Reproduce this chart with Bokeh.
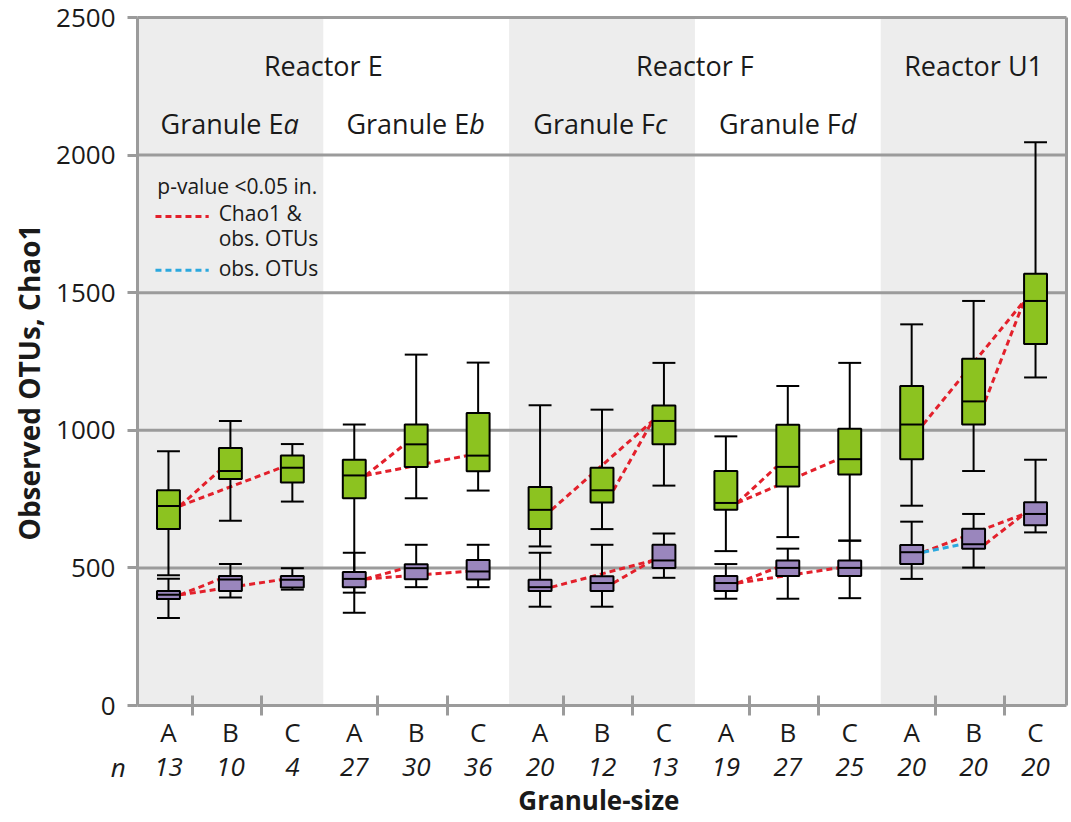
import math
from bokeh.plotting import figure
from bokeh.models import Range1d, FixedTicker, Label, LabelSet, ColumnDataSource, LinearAxis
from bokeh.embed import file_html
from bokeh.resources import INLINE
from bokeh.core.properties import value

# ---------------- data ----------------
sizes = ["A", "B", "C"] * 5
n_values = ["13", "10", "4", "27", "30", "36", "20", "12", "13", "19", "27", "25", "20", "20", "20"]
granule_names = [("Granule E", "a"), ("Granule E", "b"), ("Granule F", "c"), ("Granule F", "d"), None]
reactor_names = ["Reactor E", "Reactor F", "Reactor U1"]
reactor_groups = [[0, 1], [2, 3], [4]]
shaded_groups = [0, 2, 4]
y_ticks = [0, 500, 1000, 1500, 2000, 2500]

# Chao1 (green)
chao_lo = [473, 671, 741, 337, 753, 781, 578, 641, 799, 561, 612, 599, 726, 852, 1192]
chao_q1 = [641, 823, 810, 753, 867, 851, 641, 738, 949, 711, 796, 839, 895, 1021, 1314]
chao_med = [725, 852, 864, 836, 949, 908, 711, 782, 1034, 736, 867, 895, 1021, 1105, 1470]
chao_q3 = [782, 936, 908, 893, 1021, 1063, 794, 864, 1090, 852, 1020, 1006, 1161, 1260, 1569]
chao_hi = [924, 1034, 950, 1021, 1275, 1246, 1091, 1075, 1245, 978, 1161, 1245, 1385, 1470, 2047]

# observed OTUs (purple)
obs_lo = [318, 392, 421, 410, 430, 430, 359, 359, 464, 388, 388, 390, 460, 501, 629]
obs_q1 = [387, 416, 429, 430, 459, 458, 416, 416, 500, 416, 471, 471, 514, 570, 655]
obs_med = [402, 458, 457, 460, 499, 487, 430, 445, 527, 445, 500, 500, 557, 586, 696]
obs_q3 = [416, 471, 471, 485, 513, 529, 457, 470, 584, 471, 527, 527, 583, 642, 739]
obs_hi = [461, 514, 499, 555, 584, 584, 555, 584, 625, 514, 570, 599, 668, 696, 893]

# significant pairs (p < 0.05)
sig_both = [(0, 1), (0, 2), (3, 4), (3, 5), (6, 8), (7, 8), (9, 10), (9, 11), (12, 14), (13, 14)]
sig_obs_only = [(12, 13)]

# ---------------- style ----------------
GREEN = "#8CC320"
PURPLE = "#9A86BD"
RED = "#E3202B"
BLUE = "#2BA8DE"
GRAY = "#9B9B9B"
BAND = "#EDEDED"
TXT = "#1A1A1A"
FONT = "Open Sans"
HW = 0.185  # half box width (data units)

N = len(sizes)
xs = [i + 0.5 for i in range(N)]
XMAX = N
YMAX = y_ticks[-1]

# the frame covers the whole canvas; the axes are placed at fixed data positions
W, H = 1071, 822
px_x = 929 / XMAX          # pixels per x unit
px_y = 688 / YMAX          # pixels per y unit
x0_px, y0_px = 137, 705    # pixel position of the data origin
p = figure(width=W, height=H,
           x_range=Range1d(-x0_px / px_x, XMAX + (W - x0_px - 929) / px_x),
           y_range=Range1d(-(H - y0_px) / px_y, YMAX + (y0_px - 688) / px_y),
           output_backend="svg", toolbar_location=None,
           x_axis_location=None, y_axis_location=None, min_border=0)
for r in list(p.center):
    r.visible = False
p.background_fill_color = "white"
p.border_fill_color = "white"
p.outline_line_color = None

# background bands
p.quad(left=[g * 3 for g in shaded_groups], right=[g * 3 + 3 for g in shaded_groups],
       bottom=0, top=YMAX, fill_color=BAND, line_color=None, level="image")

# grid lines and right border
p.segment(x0=[0] * (len(y_ticks) - 1), y0=y_ticks[1:], x1=[XMAX] * (len(y_ticks) - 1), y1=y_ticks[1:],
          line_color=GRAY, line_width=3, level="underlay")
p.segment(x0=[XMAX], y0=[0], x1=[XMAX], y1=[YMAX], line_color=GRAY, line_width=3, level="underlay")

# axes
ya = LinearAxis(fixed_location=0, bounds=(0, YMAX), ticker=FixedTicker(ticks=y_ticks))
ya.axis_line_color = GRAY
ya.axis_line_width = 3
ya.major_tick_line_color = GRAY
ya.major_tick_line_width = 3
ya.major_tick_out = 10
ya.major_tick_in = 0
ya.minor_tick_line_color = None
ya.major_label_text_font = FONT
ya.major_label_text_font_size = "26px"
ya.major_label_text_color = TXT
ya.major_label_standoff = 12
p.add_layout(ya, "left")

xt = []
for g in range(5):
    xt += [g * 3 + 0.88, g * 3 + 2.0]
xa = LinearAxis(fixed_location=0, bounds=(0, XMAX), ticker=FixedTicker(ticks=xt))
xa.major_label_overrides = {t: "" for t in xt}
xa.axis_line_color = GRAY
xa.axis_line_width = 3
xa.major_tick_line_color = GRAY
xa.major_tick_line_width = 3
xa.major_tick_out = 10
xa.major_tick_in = 10
xa.minor_tick_line_color = None
p.add_layout(xa, "below")


# significance lines (right edge of source box at median -> left edge of target box at median)
def seg(pairs, med):
    return dict(x0=[xs[a] + HW for a, b in pairs], y0=[med[a] for a, b in pairs],
                x1=[xs[b] - HW for a, b in pairs], y1=[med[b] for a, b in pairs])


for med in (chao_med, obs_med):
    p.segment(source=ColumnDataSource(seg(sig_both, med)), x0="x0", y0="y0", x1="x1", y1="y1",
              line_color=RED, line_width=3, line_dash="6 4")
p.segment(source=ColumnDataSource(seg(sig_obs_only, obs_med)), x0="x0", y0="y0", x1="x1", y1="y1",
          line_color=BLUE, line_width=3, line_dash="6 4")

# whiskers + caps
for lo, q1, q3, hi in ((chao_lo, chao_q1, chao_q3, chao_hi), (obs_lo, obs_q1, obs_q3, obs_hi)):
    p.segment(x0=xs, y0=q3, x1=xs, y1=hi, line_color="black", line_width=2)
    p.segment(x0=xs, y0=lo, x1=xs, y1=q1, line_color="black", line_width=2)
    p.segment(x0=[x - HW for x in xs], y0=hi, x1=[x + HW for x in xs], y1=hi, line_color="black", line_width=2)
    p.segment(x0=[x - HW for x in xs], y0=lo, x1=[x + HW for x in xs], y1=lo, line_color="black", line_width=2)

# boxes + medians
for q1, med, q3, col in ((chao_q1, chao_med, chao_q3, GREEN), (obs_q1, obs_med, obs_q3, PURPLE)):
    p.quad(left=[x - HW for x in xs], right=[x + HW for x in xs], bottom=q1, top=q3,
           fill_color=col, line_color="black", line_width=2)
    p.segment(x0=[x - HW for x in xs], y0=med, x1=[x + HW for x in xs], y1=med,
              line_color="black", line_width=2)


# ---------------- texts ----------------
def lab(text, x, y, size="27px", style="normal", align="center", baseline="middle", xoff=0, angle=0.0):
    p.add_layout(Label(x=x, y=y, text=text, text_font=FONT, text_font_size=size, text_font_style=style,
                       text_align=align, text_baseline=baseline, x_offset=xoff, angle=angle, text_color=TXT))


# reactor titles
for name, grp in zip(reactor_names, reactor_groups):
    lab(name, (min(grp) * 3 + max(grp) * 3 + 3) / 2, 2326)
# granule titles (last letter italic)
for g, nm in enumerate(granule_names):
    if nm is None:
        continue
    c = g * 3 + 1.5
    lab(nm[0], c, 2115, align="right", xoff=53)
    lab(nm[1], c, 2115, style="italic", align="left", xoff=53)

# legend
lab("p-value <0.05 in.", 0.32, 1886, size="21px", align="left")
p.segment(x0=[0.29], y0=[1777], x1=[1.15], y1=[1777], line_color=RED, line_width=3, line_dash="6 4")
lab("Chao1 &", 1.31, 1788, size="21px", align="left")
lab("obs. OTUs", 1.31, 1697, size="21px", align="left")
p.segment(x0=[0.29], y0=[1582], x1=[1.15], y1=[1582], line_color=BLUE, line_width=3, line_dash="6 4")
lab("obs. OTUs", 1.31, 1588, size="21px", align="left")

# category labels below axis
src = ColumnDataSource(dict(x=xs, y=[-98] * N, s=sizes, n=n_values, yn=[-225] * N))
p.add_layout(LabelSet(source=src, x="x", y="y", text="s", text_font=value(FONT), text_font_size=value("26px"),
                      text_align="center", text_baseline="middle", text_color=TXT))
p.add_layout(LabelSet(source=src, x="x", y="yn", text="n", text_font=value(FONT), text_font_size=value("26px"),
                      text_font_style=value("italic"), text_align="center", text_baseline="middle",
                      text_color=TXT))
lab("n", -0.31, -225, size="26px", style="italic")

# axis titles
lab("Granule-size", XMAX / 2 - 0.05, -345, size="26px", style="bold")
lab("Observed OTUs, Chao1", -1.744, 1174, size="28px", style="bold", angle=math.pi / 2)

open("out.html", "w").write(file_html(p, INLINE))
